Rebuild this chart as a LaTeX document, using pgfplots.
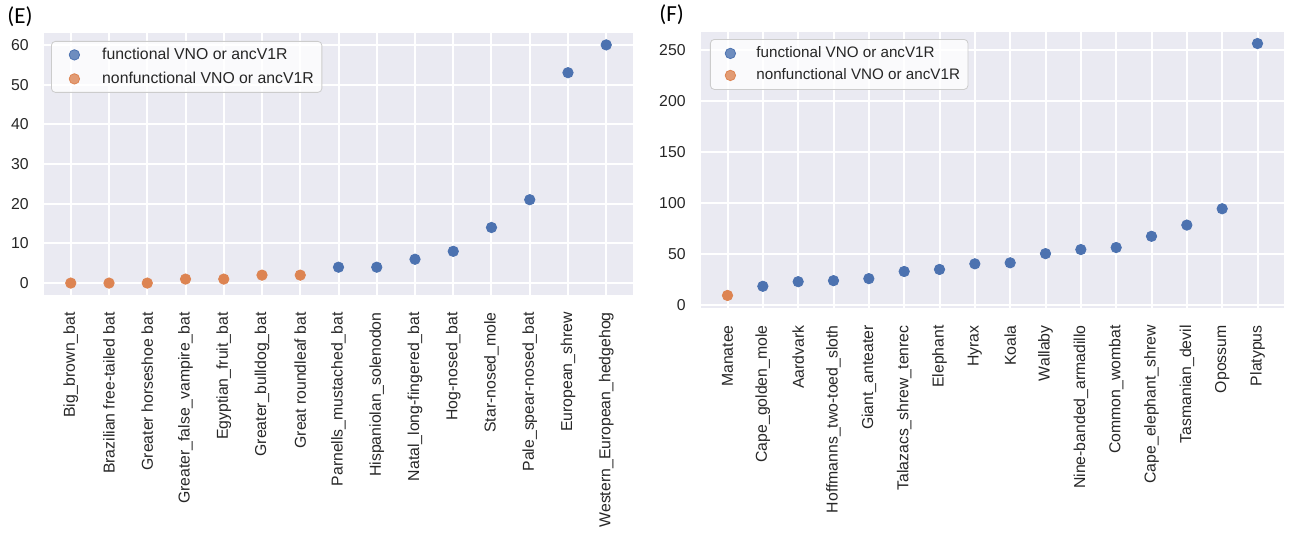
\documentclass[border=0pt]{standalone}
\usepackage{fontspec}
\setmainfont{Liberation Sans}
\newfontfamily\calibri{Carlito}
\usepackage{pgfplots}
\pgfplotsset{compat=1.18}
\definecolor{sbblue}{HTML}{4C72B0}
\definecolor{sborange}{HTML}{DD8452}
\definecolor{sbbg}{HTML}{EAEAF2}
\definecolor{sbtext}{HTML}{262626}
\pgfplotsset{sbstyle/.style={
  scale only axis,
  anchor=north west,
  axis background/.style={fill=sbbg},
  axis line style={draw=none},
  grid=major,
  major grid style={white, line width=1pt},
  major tick length=0pt,
  tick label style={font=\fontsize{7.9}{9}\selectfont, text=sbtext},
  xticklabel style={rotate=90, anchor=east, inner sep=0pt},
  xticklabel shift=8.5pt,
  yticklabel style={anchor=east, inner sep=0pt},
  yticklabel shift=7.5pt,
  /pgf/number format/assume math mode=true,
  legend cell align=left,
  clip=false,
}}
\begin{document}
\begin{tikzpicture}
\useasboundingbox (0pt,0pt) rectangle (644.5pt,-266.5pt);
\node[anchor=west, inner sep=0pt, font=\calibri\fontsize{11.5}{13}\selectfont] at (3.5pt,-8.5pt) {(E)};
\node[anchor=west, inner sep=0pt, font=\calibri\fontsize{11.5}{13}\selectfont] at (329.5pt,-7.5pt) {(F)};
\begin{axis}[sbstyle,
  at={(22pt,-16.5pt)},
  width=294.5pt, height=131pt,
  xmin=-0.7, xmax=14.7, ymin=-3, ymax=63,
  xtick={0,...,14},
  xticklabels={Big\_brown\_bat, Brazilian free-tailed bat, Greater horseshoe bat, Greater\_false\_vampire\_bat, Egyptian\_fruit\_bat, Greater\_bulldog\_bat, Great roundleaf bat, Parnells\_mustached\_bat, Hispaniolan\_solenodon, Natal\_long-fingered\_bat, Hog-nosed\_bat, Star-nosed\_mole, Pale\_spear-nosed\_bat, European\_shrew, Western\_European\_hedgehog},
  ytick={0,10,...,60},
  legend style={at={(0.0119,0.9695)}, anchor=north west, draw=black!20, fill=white, fill opacity=0.8, text opacity=1, rounded corners=2pt, inner xsep=2pt, inner ysep=0.75pt, text=sbtext, font=\fontsize{7.9}{9}\selectfont},
  legend image code/.code={\path[draw=none, fill=none] (0pt,-6pt) rectangle (21.4pt,6pt); \draw[#1] plot coordinates {(9.5pt,0pt)};},
]
\addplot[only marks, mark=*, mark size=2.6pt, color=sbblue, mark options={draw=none, fill=sbblue}] coordinates {
(7,4) (8,4) (9,6) (10,8) (11,14) (12,21) (13,53) (14,60)};
\addlegendentry{functional VNO or ancV1R}
\addplot[only marks, mark=*, mark size=2.6pt, color=sborange, mark options={draw=none, fill=sborange}] coordinates {
(0,0) (1,0) (2,0) (3,1) (4,1) (5,2) (6,2)};
\addlegendentry{nonfunctional VNO or ancV1R}
\end{axis}
\begin{axis}[sbstyle,
  at={(350.5pt,-16pt)},
  width=291.5pt, height=138pt,
  xmin=-0.75, xmax=15.75, ymin=-3.3, ymax=267.3,
  xtick={0,...,15},
  xticklabels={Manatee, Cape\_golden\_mole, Aardvark, Hoffmanns\_two-toed\_sloth, Giant\_anteater, Talazacs\_shrew\_tenrec, Elephant, Hyrax, Koala, Wallaby, Nine-banded\_armadillo, Common\_wombat, Cape\_elephant\_shrew, Tasmanian\_devil, Opossum, Platypus},
  ytick={0,50,...,250},
  legend style={at={(0.0154,0.9746)}, anchor=north west, draw=black!20, fill=white, fill opacity=0.8, text opacity=1, rounded corners=2pt, inner xsep=2pt, inner ysep=1.5pt, text=sbtext, font=\fontsize{7.6}{9}\selectfont, cells={inner ysep=1pt}},
  legend image code/.code={\path[draw=none, fill=none] (0pt,-5.25pt) rectangle (19pt,5.25pt); \draw[#1] plot coordinates {(8pt,0pt)};},
]
\addplot[only marks, mark=*, mark size=2.6pt, color=sbblue, mark options={draw=none, fill=sbblue}] coordinates {
(1,18) (2,22.5) (3,23.5) (4,25.5) (5,32.5) (6,34.5) (7,40) (8,41) (9,50) (10,54) (11,56) (12,67) (13,78) (14,94) (15,256)};
\addlegendentry{functional VNO or ancV1R}
\addplot[only marks, mark=*, mark size=2.6pt, color=sborange, mark options={draw=none, fill=sborange}] coordinates {
(0,9)};
\addlegendentry{nonfunctional VNO or ancV1R}
\end{axis}
\end{tikzpicture}
\end{document}
